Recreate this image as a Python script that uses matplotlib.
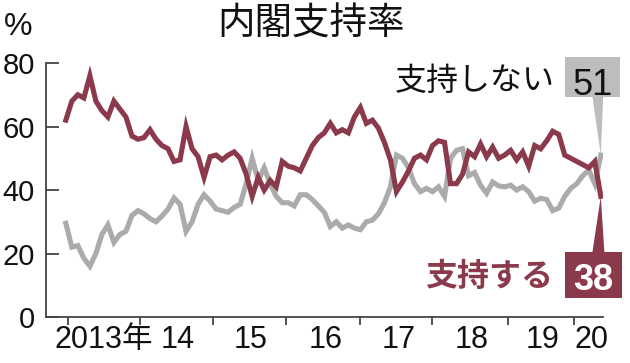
import matplotlib
matplotlib.use('Agg')
import matplotlib.pyplot as plt
from matplotlib import font_manager
from matplotlib.patches import Rectangle, Polygon

# fonts: narrow latin digits, CJK fallback
names = {f.name for f in font_manager.fontManager.ttflist}
num_font = 'Liberation Sans Narrow' if 'Liberation Sans Narrow' in names else 'Liberation Sans'
plt.rcParams['font.family'] = [num_font, 'Noto Sans CJK JP', 'DejaVu Sans']

# monthly polls, 2012-12 .. 2020-05
support = [62, 68, 70, 69, 76, 68, 65, 63, 68, 65.5, 63, 57, 56, 56.5, 59, 56, 54, 53,
           49, 49.5, 60, 53, 50.5, 44, 50.5, 51, 49.5, 51, 52, 50, 45, 38, 44, 40, 43,
           41, 49, 47.5, 47, 46, 50, 54, 56.5, 58, 61, 58, 59, 58, 63, 66, 61, 62, 59.5,
           55, 49.5, 39.5, 42.5, 46, 50, 51, 49.5, 54, 55.5, 55, 42, 42, 45, 52, 50.5,
           54.5, 50.5, 53.5, 50, 51, 52.5, 49.5, 52, 47.5, 54, 53, 55.5, 58.5, 57.5, 51,
           50, 49, 48, 47, 49, 38]
nonsupport = [29.5, 22, 22.5, 18.5, 16, 20, 26, 29, 23.5, 26, 27, 32, 33.5, 32.5, 31, 30,
              31.8, 34, 37.5, 35.5, 27, 30, 35.5, 38.5, 36.5, 34, 33.5, 33, 34.5, 35.5, 42,
              50, 43, 47, 42, 38, 36, 36, 35, 38.5, 38.5, 37, 35, 33, 28.5, 30, 28, 29, 28,
              27.5, 30, 30.5, 32.5, 36, 41, 51, 50, 47, 42, 39.5, 40.5, 39.5, 41, 38, 50,
              52.5, 53, 44.5, 45.5, 41.5, 39, 42.5, 41.3, 41, 41.5, 40, 41, 39.5, 36.5,
              37.4, 37, 33.5, 34.3, 38, 40.5, 42, 44.5, 46.3, 42, 51]
months = list(range(len(support)))
year_ticks = [0.3, 12.3, 24.5, 36.7, 48.9, 61.0, 73.5, 84.6]
year_label_pos = [6.3, 18.6, 30.8, 43.2, 55.3, 67.5, 79.3, 87.4]
year_labels = ['2013年', '14', '15', '16', '17', '18', '19', '20']
y_ticks = [0, 20, 40, 60, 80]

red = '#8b3a4b'
grey = '#ababab'
axis_col = '#444444'

fig = plt.figure(figsize=(6.3, 3.63), dpi=100)
ax = fig.add_axes([0.073, 0.1267, 0.884, 0.6997])

ax.plot(months, nonsupport, color=grey, lw=3.7, solid_joinstyle='miter', zorder=2)
ax.plot(months, support, color=red, lw=3.7, solid_joinstyle='miter', zorder=3)

ax.set_xlim(-3.3, 89.35)
ax.set_ylim(0, 80)
for s in ['top', 'right']:
    ax.spines[s].set_visible(False)
for s in ['left', 'bottom']:
    ax.spines[s].set_color(axis_col)
    ax.spines[s].set_linewidth(1.3)

ax.set_yticks(y_ticks)
ax.tick_params(axis='y', direction='in', length=9, width=1.3, color=axis_col,
               pad=8, labelsize=21, labelcolor='#111111')
ax.set_xticks(year_ticks)
ax.set_xticklabels([])
ax.tick_params(axis='x', which='major', direction='out', length=6, width=1.3, color=axis_col)
ax.set_xticks(year_label_pos, minor=True)
ax.set_xticklabels(year_labels, minor=True)
ax.tick_params(axis='x', which='minor', length=0, pad=6, labelsize=22, labelcolor='#111111')

# title and unit
fig.text(311 / 630, 1 - 24 / 363, '内閣支持率', ha='center', va='center',
         fontsize=27, color='#111111', family=['Noto Sans CJK JP'])
fig.text(4 / 630, 1 - 27 / 363, '%', ha='left', va='center', fontsize=23, color='#111111')

# end labels with callout boxes
last = months[-1]
ax.add_patch(Rectangle((83.0, 69.4), 9.2, 12.6, fc='#bdbdbd', ec='none', clip_on=False, zorder=4))
ax.add_patch(Polygon([(87.6, 69.5), (89.4, 69.5), (last, nonsupport[-1])], closed=True,
                     fc='#bdbdbd', ec='none', clip_on=False, zorder=4))
ax.text(87.7, 70.0, str(nonsupport[-1]), ha='center', va='baseline', fontsize=26,
        color='#111111', zorder=5, clip_on=False)
ax.text(81.4, 74.3, '支持しない', ha='right', va='center', fontsize=23,
        color='#111111', family=['Noto Sans CJK JP'], zorder=5)

ax.add_patch(Rectangle((83.0, 6.0), 9.5, 14.5, fc=red, ec='none', clip_on=False, zorder=4))
ax.add_patch(Polygon([(87.6, 20.4), (89.6, 20.4), (last, support[-1])], closed=True,
                     fc=red, ec='none', clip_on=False, zorder=4))
ax.text(87.7, 8.5, str(support[-1]), ha='center', va='baseline', fontsize=26,
        color='white', fontweight='bold', zorder=5, clip_on=False)
ax.text(81.0, 12.6, '支持する', ha='right', va='center', fontsize=23, fontweight='bold',
        color=red, family=['Noto Sans CJK JP'], zorder=5)

fig.savefig('out.png', dpi=100)
